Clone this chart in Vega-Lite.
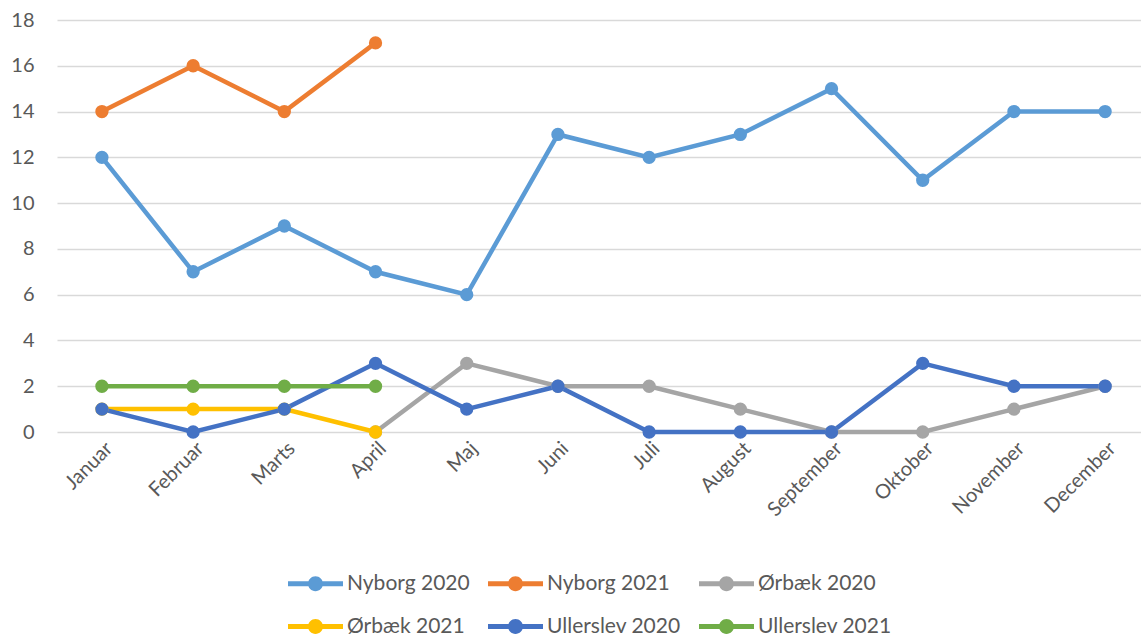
{
  "$schema": "https://vega.github.io/schema/vega-lite/v6.json",
  "width": 1084,
  "height": 412,
  "autosize": "none",
  "padding": {"left": 57, "top": 20, "right": 0, "bottom": 206},
  "background": "white",
  "config": {
    "view": {"stroke": null},
    "font": "Lato",
    "axis": {"labelFont": "Lato", "labelColor": "#595959", "labelFontSize": 20, "title": null}
  },
  "data": {
    "values": [
      {"month": "Januar", "series": "Nyborg 2020", "value": 12},
      {"month": "Februar", "series": "Nyborg 2020", "value": 7},
      {"month": "Marts", "series": "Nyborg 2020", "value": 9},
      {"month": "April", "series": "Nyborg 2020", "value": 7},
      {"month": "Maj", "series": "Nyborg 2020", "value": 6},
      {"month": "Juni", "series": "Nyborg 2020", "value": 13},
      {"month": "Juli", "series": "Nyborg 2020", "value": 12},
      {"month": "August", "series": "Nyborg 2020", "value": 13},
      {"month": "September", "series": "Nyborg 2020", "value": 15},
      {"month": "Oktober", "series": "Nyborg 2020", "value": 11},
      {"month": "November", "series": "Nyborg 2020", "value": 14},
      {"month": "December", "series": "Nyborg 2020", "value": 14},
      {"month": "Januar", "series": "Nyborg 2021", "value": 14},
      {"month": "Februar", "series": "Nyborg 2021", "value": 16},
      {"month": "Marts", "series": "Nyborg 2021", "value": 14},
      {"month": "April", "series": "Nyborg 2021", "value": 17},
      {"month": "April", "series": "Ørbæk 2020", "value": 0},
      {"month": "Maj", "series": "Ørbæk 2020", "value": 3},
      {"month": "Juni", "series": "Ørbæk 2020", "value": 2},
      {"month": "Juli", "series": "Ørbæk 2020", "value": 2},
      {"month": "August", "series": "Ørbæk 2020", "value": 1},
      {"month": "September", "series": "Ørbæk 2020", "value": 0},
      {"month": "Oktober", "series": "Ørbæk 2020", "value": 0},
      {"month": "November", "series": "Ørbæk 2020", "value": 1},
      {"month": "December", "series": "Ørbæk 2020", "value": 2},
      {"month": "Januar", "series": "Ørbæk 2021", "value": 1},
      {"month": "Februar", "series": "Ørbæk 2021", "value": 1},
      {"month": "Marts", "series": "Ørbæk 2021", "value": 1},
      {"month": "April", "series": "Ørbæk 2021", "value": 0},
      {"month": "Januar", "series": "Ullerslev 2020", "value": 1},
      {"month": "Februar", "series": "Ullerslev 2020", "value": 0},
      {"month": "Marts", "series": "Ullerslev 2020", "value": 1},
      {"month": "April", "series": "Ullerslev 2020", "value": 3},
      {"month": "Maj", "series": "Ullerslev 2020", "value": 1},
      {"month": "Juni", "series": "Ullerslev 2020", "value": 2},
      {"month": "Juli", "series": "Ullerslev 2020", "value": 0},
      {"month": "August", "series": "Ullerslev 2020", "value": 0},
      {"month": "September", "series": "Ullerslev 2020", "value": 0},
      {"month": "Oktober", "series": "Ullerslev 2020", "value": 3},
      {"month": "November", "series": "Ullerslev 2020", "value": 2},
      {"month": "December", "series": "Ullerslev 2020", "value": 2},
      {"month": "Januar", "series": "Ullerslev 2021", "value": 2},
      {"month": "Februar", "series": "Ullerslev 2021", "value": 2},
      {"month": "Marts", "series": "Ullerslev 2021", "value": 2},
      {"month": "April", "series": "Ullerslev 2021", "value": 2}
    ]
  },
  "encoding": {
    "x": {
      "field": "month", "type": "ordinal",
      "scale": {"type": "point", "padding": 0.443, "align": 0.556,
        "domain": ["Januar","Februar","Marts","April","Maj","Juni","Juli","August","September","Oktober","November","December"]},
      "axis": {"labelAngle": -45, "ticks": false, "domain": false, "grid": false, "labelPadding": 6}
    },
    "y": {
      "field": "value", "type": "quantitative",
      "scale": {"domain": [0, 18], "nice": false},
      "axis": {"values": [0,2,4,6,8,10,12,14,16,18], "ticks": false, "domain": false, "grid": true, "gridColor": "#d9d9d9", "gridWidth": 1.5, "labelPadding": 23}
    },
    "color": {
      "field": "series", "type": "nominal",
      "scale": {
        "domain": ["Nyborg 2020","Nyborg 2021","Ørbæk 2020","Ørbæk 2021","Ullerslev 2020","Ullerslev 2021"],
        "range": ["#5B9BD5","#ED7D31","#A5A5A5","#FFC000","#4472C4","#70AD47"]
      },
      "sort": ["Nyborg 2020","Nyborg 2021","Ørbæk 2020","Ørbæk 2021","Ullerslev 2020","Ullerslev 2021"],
      "legend": {
        "title": null,
        "orient": "none",
        "legendX": 231,
        "legendY": 536,
        "direction": "horizontal",
        "columns": 3,
        "gridAlign": "each",
        "symbolType": "M-1,-0.09L1,-0.09L1,0.09L-1,0.09Z M0.27,0A0.27,0.27,0,1,1,-0.27,0A0.27,0.27,0,1,1,0.27,0Z",
        "symbolSize": 3025,
        "symbolStrokeWidth": 0,
        "labelFont": "Lato",
        "labelFontSize": 21,
        "labelColor": "#595959",
        "labelOffset": 4,
        "columnPadding": 18,
        "rowPadding": 5,
        "encode": {"symbols": {"update": {"fill": {"scale": "color", "field": "value"}, "strokeWidth": {"value": 0}, "opacity": {"value": 1}}}}
      }
    }
  },
  "layer": [
    {"mark": {"type": "line", "strokeWidth": 4.5}},
    {"mark": {"type": "circle", "size": 177, "opacity": 1}}
  ]
}
